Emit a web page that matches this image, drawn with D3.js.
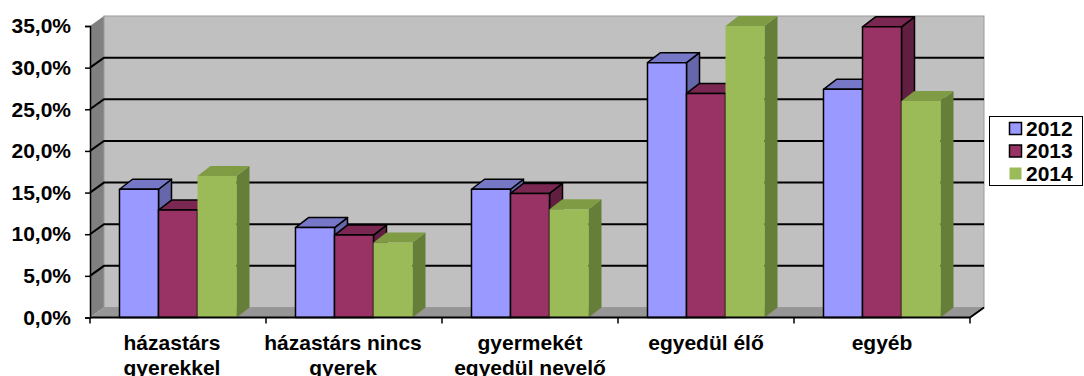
<!DOCTYPE html>
<html>
<head>
<meta charset="utf-8">
<script src="https://cdn.jsdelivr.net/npm/d3@7"></script>
<style>
  html, body { margin: 0; padding: 0; background: #fff; }
  svg { display: block; font-family: "Liberation Sans", Arial, sans-serif; font-weight: bold; }
</style>
</head>
<body>
<svg id="chart" width="1084" height="376"></svg>
<script>
// Household types (category labels, line breaks marked with \n)
const categories = [
  "házastárs\ngyerekkel",
  "házastárs nincs\ngyerek",
  "gyermekét\negyedül nevelő",
  "egyedül élő",
  "egyéb"
];
const years = ["2012", "2013", "2014"];
// Share of each household type per year
const values2012 = [0.154, 0.108, 0.154, 0.306, 0.274];
const values2013 = [0.129, 0.099, 0.149, 0.269, 0.349];
const values2014 = [0.170, 0.090, 0.130, 0.350, 0.260];
const yTicks = [0, 0.05, 0.10, 0.15, 0.20, 0.25, 0.30, 0.35];

const seriesValues = [values2012, values2013, values2014];
const colors = {
  "2012": { front: "#9999FF", top: "#7777C8", side: "#6666AA", stroke: "#000" },
  "2013": { front: "#993366", top: "#7A2852", side: "#601F40", stroke: "#000" },
  "2014": { front: "#9BBB59", top: "#7F9C45", side: "#667F38", stroke: "none" }
};

const svg = d3.select("#chart");
const fontSize = 21;

// Plot frame (front plane) and 3D depth offset
const plotLeft = 90, plotRight = 970, plotBottom = 317.5, plotTop = 26;
const depth = { dx: 14, dy: -10 };
const barDepth = { dx: 13, dy: -10 };
// Horizontal shift of wrapped category labels under their slot
const labelShift = [-6, -11, 0, 0, 0];

const x0 = d3.scaleBand().domain(d3.range(categories.length)).range([plotLeft, plotRight]).paddingInner(0).paddingOuter(0);
const x1 = d3.scaleBand().domain(years).range([0, x0.bandwidth()]).paddingInner(0).paddingOuter(0.756);
const y = d3.scaleLinear().domain([0, 0.35]).range([plotBottom, plotTop]);

const locale = d3.formatLocale({ decimal: ",", thousands: " ", grouping: [3], currency: ["", ""] });
const fmt = locale.format(".1%");

// Side wall
svg.append("polygon")
  .attr("points", [[plotLeft, y(0)], [plotLeft, y(0.35)], [plotLeft + depth.dx, y(0.35) + depth.dy], [plotLeft + depth.dx, y(0) + depth.dy]].join(" "))
  .attr("fill", "#808080");

// Back wall
svg.append("rect")
  .attr("x", plotLeft + depth.dx).attr("y", y(0.35) + depth.dy)
  .attr("width", plotRight - plotLeft).attr("height", y(0) - y(0.35))
  .attr("fill", "#C0C0C0").attr("stroke", "#9a9a9a").attr("stroke-width", 1);

// Floor
svg.append("polygon")
  .attr("points", [[plotLeft, y(0)], [plotRight, y(0)], [plotRight + depth.dx, y(0) + depth.dy], [plotLeft + depth.dx, y(0) + depth.dy]].join(" "))
  .attr("fill", "#969696");

// Gridlines on back wall and side wall
const grid = svg.append("g").attr("stroke", "#000").attr("stroke-width", 2).attr("fill", "none");
yTicks.filter(t => t > 0 && t < 0.35).forEach(t => {
  grid.append("path")
    .attr("d", `M${plotLeft},${y(t)} L${plotLeft + depth.dx},${y(t) + depth.dy} L${plotRight + depth.dx},${y(t) + depth.dy}`);
});

// Bars
const bars = svg.append("g");
categories.forEach((c, ci) => {
  years.forEach((yr, si) => {
    const v = seriesValues[si][ci];
    const bx = x0(ci) + x1(yr), bw = x1.bandwidth();
    const yt = y(v), yb = y(0);
    const col = colors[yr];
    const g = bars.append("g")
      .attr("stroke", col.stroke).attr("stroke-width", col.stroke === "none" ? 0 : 1.5)
      .attr("stroke-linejoin", "round");
    // side face
    g.append("polygon").attr("fill", col.side)
      .attr("points", [[bx + bw, yt], [bx + bw + barDepth.dx, yt + barDepth.dy], [bx + bw + barDepth.dx, yb + barDepth.dy], [bx + bw, yb]].join(" "));
    // top face
    g.append("polygon").attr("fill", col.top)
      .attr("points", [[bx, yt], [bx + barDepth.dx, yt + barDepth.dy], [bx + bw + barDepth.dx, yt + barDepth.dy], [bx + bw, yt]].join(" "));
    // front face
    g.append("rect").attr("fill", col.front)
      .attr("x", bx).attr("y", yt).attr("width", bw).attr("height", yb - yt);
  });
});

// Y axis
const yAxis = d3.axisLeft(y).tickValues(yTicks).tickFormat(fmt).tickSize(5).tickPadding(14);
const ya = svg.append("g").attr("transform", `translate(${plotLeft},0)`).call(yAxis);
ya.select(".domain").attr("stroke", "#000").attr("stroke-width", 1.5);
ya.selectAll(".tick line").attr("stroke", "#000").attr("stroke-width", 1.5);
ya.selectAll(".tick text").attr("font-size", fontSize).attr("font-family", "Liberation Sans, Arial, sans-serif")
  .attr("font-weight", "bold").attr("fill", "#000");

// X axis (front floor edge)
svg.append("path")
  .attr("d", `M${plotLeft},${y(0)} L${plotRight},${y(0)} L${plotRight + depth.dx},${y(0) + depth.dy}`)
  .attr("stroke", "#000").attr("stroke-width", 2).attr("fill", "none");
const boundaries = d3.range(categories.length + 1).map(i => i < categories.length ? x0(i) : plotRight);
svg.append("g").selectAll("line").data(boundaries).join("line")
  .attr("x1", d => d).attr("x2", d => d)
  .attr("y1", y(0)).attr("y2", y(0) + 6)
  .attr("stroke", "#000").attr("stroke-width", 1.5);

// Category labels
const labels = svg.append("g").attr("font-size", fontSize).attr("text-anchor", "middle").attr("fill", "#000");
categories.forEach((c, ci) => {
  const cx = x0(ci) + x0.bandwidth() / 2 + labelShift[ci];
  const t = labels.append("text").attr("x", cx).attr("y", 350);
  c.split("\n").forEach((line, li) => {
    t.append("tspan").attr("x", cx).attr("dy", li === 0 ? 0 : 24.5).text(line);
  });
});

// Legend
const legend = svg.append("g");
legend.append("rect").attr("x", 989.5).attr("y", 116.5).attr("width", 93).attr("height", 69)
  .attr("fill", "#fff").attr("stroke", "#000").attr("stroke-width", 1);
years.forEach((yr, i) => {
  const cy = 128.5 + i * 22.5;
  const col = colors[yr];
  legend.append("rect").attr("x", 1009.5).attr("y", cy - 6).attr("width", 12).attr("height", 12)
    .attr("fill", col.front).attr("stroke", col.stroke).attr("stroke-width", col.stroke === "none" ? 0 : 1.5);
  legend.append("text").attr("x", 1026).attr("y", cy + 7).attr("font-size", fontSize).attr("fill", "#000").text(yr);
});
</script>
</body>
</html>
